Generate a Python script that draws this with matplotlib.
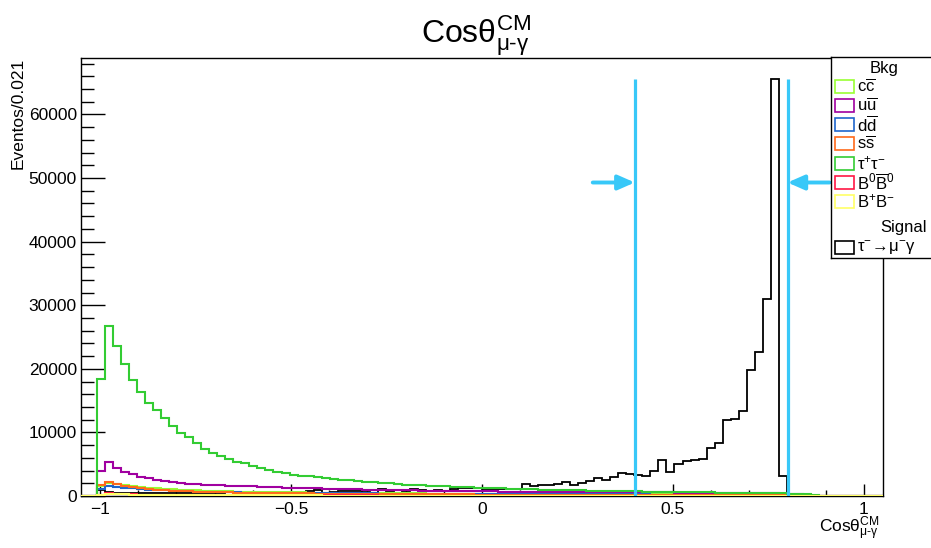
import numpy as np
import matplotlib
matplotlib.use("Agg")
import matplotlib.pyplot as plt
from matplotlib.patches import Rectangle
from matplotlib.ticker import FixedLocator, MultipleLocator, FuncFormatter

plt.rcParams['font.family'] = ['Liberation Sans', 'DejaVu Sans']
plt.rcParams['mathtext.fontset'] = 'custom'
plt.rcParams['mathtext.rm'] = 'Liberation Sans'
plt.rcParams['mathtext.it'] = 'Liberation Sans:italic'
plt.rcParams['mathtext.bf'] = 'Liberation Sans:bold'
plt.rcParams['mathtext.sf'] = 'Liberation Sans'

# ---------------- data ----------------
x_min, x_max, n_bins = -1.05, 1.05, 100

tautau = [0, 0, 18400, 26800, 23600, 20700, 18300, 16400, 14700, 13500,
          12300, 10950, 9950, 9200, 8300, 7400, 6750, 6300, 5850, 5350,
          5150, 4750, 4350, 4100, 3800, 3600, 3250, 3200, 3100, 2950,
          2800, 2650, 2550, 2500, 2310, 2210, 2180, 2050, 2000, 1840,
          1780, 1730, 1680, 1630, 1630, 1520, 1420, 1420, 1360, 1310,
          1260, 1220, 1180, 1150, 1110, 1080, 1050, 1010, 980, 950,
          920, 900, 870, 850, 820, 800, 780, 760, 740, 720,
          700, 680, 660, 650, 630, 610, 600, 580, 560, 550,
          530, 520, 500, 490, 470, 450, 430, 400, 380, 340,
          300, 200, 0, 0, 0, 0, 0, 0, 0, 0]

uubar = [0, 0, 3900, 5350, 4400, 3850, 3450, 3050, 2800, 2550,
         2400, 2200, 2050, 1950, 1850, 1800, 1750, 1700, 1650, 1600,
         1550, 1500, 1450, 1400, 1360, 1320, 1280, 1250, 1220, 1190,
         1160, 1130, 1100, 1070, 1040, 1010, 990, 970, 950, 930,
         900, 880, 860, 840, 820, 800, 785, 770, 755, 740,
         725, 715, 705, 695, 685, 675, 665, 655, 645, 640,
         635, 630, 625, 620, 615, 610, 600, 595, 590, 585,
         580, 570, 560, 555, 550, 540, 530, 520, 510, 500,
         490, 480, 470, 460, 450, 440, 420, 390, 350, 280,
         200, 0, 0, 0, 0, 0, 0, 0, 0, 0]

ccbar = [0, 0, 1500, 2100, 1900, 1700, 1550, 1420, 1300, 1200,
         1120, 1050, 980, 920, 870, 830, 790, 760, 730, 700,
         680, 660, 640, 620, 600, 585, 570, 555, 540, 525,
         510, 500, 490, 480, 470, 460, 450, 440, 430, 420,
         410, 400, 395, 390, 385, 380, 375, 370, 365, 360,
         355, 350, 345, 340, 335, 330, 325, 320, 315, 310,
         305, 300, 298, 295, 292, 290, 288, 285, 282, 280,
         278, 275, 272, 270, 265, 260, 255, 250, 245, 240,
         235, 230, 225, 220, 210, 200, 190, 170, 140, 100,
         60, 0, 0, 0, 0, 0, 0, 0, 0, 0]

ddbar = [0, 0, 1100, 1650, 1450, 1300, 1180, 1080, 1000, 930,
         870, 810, 760, 720, 680, 650, 620, 600, 580, 560,
         545, 530, 515, 500, 490, 480, 470, 462, 455, 448,
         440, 432, 425, 418, 410, 402, 395, 388, 380, 372,
         365, 358, 352, 346, 340, 335, 330, 325, 320, 315,
         310, 305, 300, 296, 292, 288, 284, 280, 276, 272,
         268, 264, 260, 257, 254, 251, 248, 245, 242, 239,
         236, 233, 230, 226, 222, 218, 214, 210, 206, 202,
         198, 194, 190, 185, 180, 172, 162, 150, 130, 100,
         60, 0, 0, 0, 0, 0, 0, 0, 0, 0]

ssbar = [0, 0, 1700, 2250, 1850, 1550, 1350, 1200, 1080, 980,
         900, 830, 770, 720, 680, 640, 610, 580, 555, 530,
         510, 490, 475, 460, 445, 432, 420, 408, 396, 385,
         375, 365, 355, 346, 338, 330, 322, 314, 306, 298,
         290, 283, 276, 270, 264, 258, 252, 246, 240, 235,
         230, 225, 220, 216, 212, 208, 204, 200, 196, 192,
         188, 184, 180, 177, 174, 171, 168, 165, 162, 159,
         156, 153, 150, 147, 144, 141, 138, 135, 132, 128,
         124, 120, 116, 112, 106, 100, 92, 82, 70, 55,
         35, 0, 0, 0, 0, 0, 0, 0, 0, 0]

b0b0bar = [0, 0, 180, 420, 360, 300, 262, 228, 212, 193,
           181, 168, 161, 150, 146, 139, 133, 131, 125, 121,
           119, 114, 111, 108, 107, 102, 101, 97, 95, 94,
           91, 89, 88, 85, 84, 81, 80, 77, 76, 73,
           72, 69, 68, 66, 63, 62, 60, 57, 56, 54,
           52, 51, 49, 48, 46, 46, 44, 44, 42, 42,
           41, 39, 39, 37, 37, 35, 35, 33, 33, 31,
           31, 29, 29, 28, 27, 26, 25, 24, 23, 22,
           21, 20, 19, 18, 17, 16, 15, 14, 12, 10,
           8, 0, 0, 0, 0, 0, 0, 0, 0, 0]

bpbm = [0, 0, 140, 360, 310, 262, 226, 201, 181, 166,
        154, 145, 137, 131, 125, 119, 115, 111, 107, 103,
        100, 97, 94, 92, 90, 87, 85, 83, 81, 79,
        77, 76, 74, 72, 71, 69, 68, 66, 65, 63,
        62, 60, 59, 58, 56, 55, 54, 52, 51, 50,
        48, 47, 46, 45, 44, 43, 42, 41, 40, 39,
        38, 37, 36, 35, 34, 33, 33, 32, 31, 30,
        29, 28, 27, 26, 25, 24, 23, 22, 21, 20,
        19, 18, 17, 16, 15, 14, 13, 12, 10, 8,
        6, 0, 0, 0, 0, 0, 0, 0, 0, 0]

signal = [0, 0, 900, 650, 550, 500, 480, 470, 450, 460,
          440, 450, 470, 480, 500, 520, 510, 540, 560, 550,
          580, 600, 640, 620, 660, 680, 650, 700, 720, 1000,
          500, 700, 850, 850, 800, 650, 500, 1100, 740, 900,
          850, 1100, 950, 850, 950, 850, 1150, 1200, 1250, 1300,
          1160, 1160, 1150, 1170, 1160, 1900, 1630, 1730, 1780, 1850,
          2150, 1680, 2050, 2310, 2840, 2470, 3000, 3620, 3460, 3360,
          3100, 3880, 5710, 3780, 5030, 5550, 5710, 5820, 7550, 8340,
          11990, 12100, 13400, 19740, 22720, 31000, 65600, 3100, 0, 0,
          0, 0, 0, 0, 0, 0, 0, 0, 0, 0]

cut_values = [0.4, 0.8]
arrow_level = 49300
arrow_len = 0.11

x_major_ticks = [-1, -0.5, 0, 0.5, 1]
y_major_ticks = [0, 10000, 20000, 30000, 40000, 50000, 60000]

bkg_labels = [r'$\mathrm{c}\overline{\mathrm{c}}$', r'$\mathrm{u}\overline{\mathrm{u}}$',
              r'$\mathrm{d}\overline{\mathrm{d}}$', r'$\mathrm{s}\overline{\mathrm{s}}$',
              r'$\mathrm{\tau^{+}\tau^{-}}$', r'$\mathrm{B^{0}}\overline{\mathrm{B}}^{0}$',
              r'$\mathrm{B^{+}B^{-}}$']
bkg_series = [ccbar, uubar, ddbar, ssbar, tautau, b0b0bar, bpbm]
bkg_colors = ['#99ff33', '#a000a0', '#1f66cc', '#ff6a1a', '#33cc33', '#ff1744', '#ffff66']
sig_label = r'$\mathrm{\tau^{-}\!\rightarrow\!\mu^{-}\gamma}$'
cut_color = '#38c8f8'

title_txt = r'$\mathrm{Cos\theta^{CM}_{\mu‐\gamma}}$'

# ---------------- figure ----------------
W, H = 931, 548
fig = plt.figure(figsize=(W / 100, H / 100), dpi=100)
ax = fig.add_axes([81 / W, 1 - 496 / H, (883 - 81) / W, (496 - 58) / H])

edges = np.linspace(x_min, x_max, n_bins + 1)
ax.stairs(signal, edges, color='black', lw=1.3, zorder=2)
for vals, col in zip(bkg_series, bkg_colors):
    ax.stairs(vals, edges, color=col, lw=1.5, zorder=3)

ymax = 1.05 * max(signal)
ax.set_xlim(x_min, x_max)
ax.set_ylim(0, ymax)

# cut lines and arrows
for c in cut_values:
    ax.plot([c, c], [0, max(signal)], color=cut_color, lw=2.3, zorder=5, solid_capstyle='butt')
ax.annotate('', xy=(cut_values[0], arrow_level), xytext=(cut_values[0] - arrow_len, arrow_level),
            arrowprops=dict(arrowstyle='-|>,head_length=0.5,head_width=0.22', color=cut_color,
                            lw=2.8, mutation_scale=20, shrinkA=0, shrinkB=0), zorder=5)
ax.annotate('', xy=(cut_values[1], arrow_level), xytext=(cut_values[1] + arrow_len, arrow_level),
            arrowprops=dict(arrowstyle='-|>,head_length=0.5,head_width=0.22', color=cut_color,
                            lw=2.8, mutation_scale=20, shrinkA=0, shrinkB=0), zorder=5)

# ticks
ax.xaxis.set_major_locator(FixedLocator(x_major_ticks))
ax.xaxis.set_minor_locator(MultipleLocator(0.1))
ax.yaxis.set_major_locator(FixedLocator(y_major_ticks))
ax.yaxis.set_minor_locator(MultipleLocator(2000))
ax.xaxis.set_major_formatter(FuncFormatter(lambda v, p: ('%g' % v).replace('-', '\u2212')))
ax.yaxis.set_major_formatter(FuncFormatter(lambda v, p: '%d' % v))
ax.tick_params(axis='x', which='major', direction='in', length=8.6, width=1, labelsize=12.5, pad=4, top=False)
ax.tick_params(axis='x', which='minor', direction='in', length=4.3, width=1, top=False)
ax.tick_params(axis='y', which='major', direction='in', length=17, width=1, labelsize=12.5, pad=3, right=False)
ax.tick_params(axis='y', which='minor', direction='in', length=9.4, width=1, right=False)
for s in ax.spines.values():
    s.set_linewidth(1.0)

# labels
fig.text(476 / W, 1 - 43 / H, title_txt, ha='center', va='baseline', fontsize=23)
fig.text(880 / W, 1 - 533 / H, title_txt, ha='right', va='baseline', fontsize=12.5)
fig.text(18 / W, 1 - 58 / H, 'Eventos/0.021', rotation=90, ha='center', va='top', fontsize=12.5)

# legend
lax = fig.add_axes([831 / W, 1 - 258 / H, 100 / W, 201 / H], zorder=10)
lax.set_xlim(0, 100)
lax.set_ylim(201, 0)
lax.set_xticks([])
lax.set_yticks([])
lax.spines['right'].set_visible(False)
for s in ['left', 'top', 'bottom']:
    lax.spines[s].set_linewidth(1.0)
lax.text(53, 11.3, 'Bkg', ha='center', va='center', fontsize=12)
for i, (lab, col) in enumerate(zip(bkg_labels, bkg_colors)):
    y = 29 + i * 19.3
    lax.add_patch(Rectangle((4, y - 6.5), 19, 13, fill=False, edgecolor=col, lw=1.2))
    lax.text(26, y, lab, ha='left', va='center', fontsize=12)
lax.text(72.5, 170.3, 'Signal', ha='center', va='center', fontsize=12)
lax.add_patch(Rectangle((4, 190.7 - 6.5), 19, 13, fill=False, edgecolor='black', lw=1.2))
lax.text(26, 190.7, sig_label, ha='left', va='center', fontsize=12)

fig.savefig('out.png', dpi=100)
